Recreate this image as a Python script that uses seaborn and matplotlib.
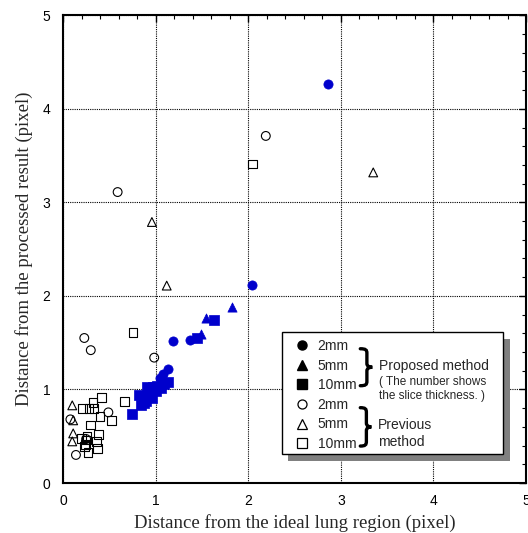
import numpy as np
import pandas as pd
import matplotlib
matplotlib.use('Agg')
import matplotlib.pyplot as plt
import seaborn as sns
from matplotlib.lines import Line2D
from matplotlib.patches import Rectangle, PathPatch
from matplotlib.path import Path

# proposed method (blue, filled)
prop_2mm_x = [2.86, 2.04, 1.19, 1.375, 1.13, 1.08, 1.05]
prop_2mm_y = [4.26, 2.12, 1.52, 1.53, 1.22, 1.17, 1.12]
prop_5mm_x = [1.83, 1.54, 1.49]
prop_5mm_y = [1.88, 1.76, 1.59]
prop_10mm_x = [0.74, 0.82, 0.84, 0.87, 0.88, 0.90, 0.91, 0.93, 0.96, 0.97, 1.00, 1.02, 1.06, 1.09, 1.13, 1.45, 1.63]
prop_10mm_y = [0.74, 0.94, 0.83, 0.86, 0.92, 0.88, 1.03, 0.97, 0.91, 1.03, 0.98, 1.04, 1.02, 1.06, 1.08, 1.55, 1.74]

# previous method (open)
prev_2mm_x = [0.59, 2.19, 0.23, 0.30, 0.985, 0.49, 0.08, 0.14, 0.25]
prev_2mm_y = [3.11, 3.71, 1.55, 1.42, 1.34, 0.755, 0.68, 0.30, 0.47]
prev_5mm_x = [3.35, 0.96, 1.12, 0.10, 0.11, 0.11, 0.10]
prev_5mm_y = [3.32, 2.79, 2.11, 0.83, 0.67, 0.53, 0.445]
prev_10mm_x = [2.05, 0.755, 0.66, 0.415, 0.325, 0.28, 0.21, 0.335, 0.40, 0.525, 0.30, 0.385,
               0.26, 0.20, 0.365, 0.245, 0.375, 0.27, 0.23, 0.256]
prev_10mm_y = [3.41, 1.61, 0.87, 0.91, 0.86, 0.80, 0.795, 0.795, 0.71, 0.67, 0.62, 0.52,
               0.50, 0.475, 0.445, 0.41, 0.37, 0.33, 0.39, 0.46]

groups = [
    ('Proposed', '2mm', prop_2mm_x, prop_2mm_y),
    ('Proposed', '5mm', prop_5mm_x, prop_5mm_y),
    ('Proposed', '10mm', prop_10mm_x, prop_10mm_y),
    ('Previous', '2mm', prev_2mm_x, prev_2mm_y),
    ('Previous', '5mm', prev_5mm_x, prev_5mm_y),
    ('Previous', '10mm', prev_10mm_x, prev_10mm_y),
]
df = pd.concat([pd.DataFrame({'x': gx, 'y': gy, 'method': m, 'thick': t})
                for m, t, gx, gy in groups], ignore_index=True)

sns.set_style('white')
plt.rcParams['font.family'] = ['Liberation Sans', 'DejaVu Sans']

markers = {'2mm': 'o', '5mm': '^', '10mm': 's'}
blue = '#0000cc'

fig = plt.figure(figsize=(5.28, 5.33), dpi=100)
ax = fig.add_axes([0.1193, 0.0938, 0.877, 0.8776])

for (m, t), sub in df.groupby(['method', 'thick'], sort=False):
    if m == 'Proposed':
        sns.scatterplot(data=sub, x='x', y='y', marker=markers[t], color=blue,
                        edgecolor=blue, linewidth=0.5, s=44, ax=ax, legend=False, zorder=3)
    else:
        sns.scatterplot(data=sub, x='x', y='y', marker=markers[t], facecolor='none',
                        edgecolor='black', linewidth=0.8, s=40, ax=ax, legend=False, zorder=3)

ax.set_xlim(0, 5)
ax.set_ylim(0, 5)
ax.set_xticks(np.arange(0, 6, 1))
ax.set_yticks(np.arange(0, 6, 1))
ax.set_xticks(np.arange(0, 5.01, 0.2), minor=True)
ax.set_yticks(np.arange(0, 5.01, 0.2), minor=True)
ax.grid(True, which='major', color='black', linestyle=(0, (1, 1)), linewidth=0.8)
ax.tick_params(which='both', direction='in', top=True, right=True, colors='black')
ax.tick_params(which='major', length=5, width=1, labelsize=10)
ax.tick_params(axis='x', which='major', pad=8)
ax.tick_params(axis='y', which='major', pad=9)
ax.tick_params(which='minor', length=3, width=0.8)
for sp in ax.spines.values():
    sp.set_color('black')
    sp.set_linewidth(1.5)

ax.set_xlabel('Distance from the ideal lung region (pixel)', family='Liberation Serif', fontsize=13.5, labelpad=4)
ax.set_ylabel('Distance from the processed result (pixel)', family='Liberation Serif', fontsize=13.5, labelpad=7)

# legend box with shadow
ax.add_patch(Rectangle((0.487, 0.047), 0.478, 0.26, transform=ax.transAxes, facecolor='#808080',
                       edgecolor='none', zorder=5, clip_on=False))
ax.add_patch(Rectangle((0.472, 0.062), 0.478, 0.26, transform=ax.transAxes, facecolor='white',
                       edgecolor='black', linewidth=1.0, zorder=6, clip_on=False))

handles = []
labels = []
for m, t, gx, gy in groups:
    if m == 'Proposed':
        h = Line2D([], [], marker=markers[t], linestyle='none', markersize=6.5,
                   markerfacecolor='black', markeredgecolor='black')
    else:
        h = Line2D([], [], marker=markers[t], linestyle='none', markersize=6.5,
                   markerfacecolor='white', markeredgecolor='black', markeredgewidth=0.9)
    handles.append(h)
    labels.append(t)
leg = ax.legend(handles, labels, loc='upper left', bbox_to_anchor=(0.5004, 0.3075),
                frameon=False, fontsize=10, borderpad=0, borderaxespad=0, labelspacing=0.4,
                handlelength=1.0, handletextpad=0.65)
leg.set_zorder(7)


def brace(x0, x1, y0, y1):
    # right-facing curly brace in axes coords
    def p(u, v):
        return (x0 + u * (x1 - x0), y0 + v * (y1 - y0))
    verts = [p(0, 1), p(0.45, 1), p(0.55, 0.97), p(0.55, 0.88),
             p(0.55, 0.6),
             p(0.55, 0.53), p(0.75, 0.5), p(1, 0.5),
             p(0.75, 0.5), p(0.55, 0.47), p(0.55, 0.4),
             p(0.55, 0.12),
             p(0.55, 0.03), p(0.45, 0), p(0, 0)]
    codes = [Path.MOVETO, Path.CURVE4, Path.CURVE4, Path.CURVE4,
             Path.LINETO,
             Path.CURVE4, Path.CURVE4, Path.CURVE4,
             Path.CURVE4, Path.CURVE4, Path.CURVE4,
             Path.LINETO,
             Path.CURVE4, Path.CURVE4, Path.CURVE4]
    ax.add_patch(PathPatch(Path(verts, codes), facecolor='none', edgecolor='black', linewidth=2.4,
                           transform=ax.transAxes, zorder=8, clip_on=False, capstyle='round'))


brace(0.642, 0.668, 0.208, 0.287)
brace(0.642, 0.666, 0.079, 0.161)

ax.text(0.683, 0.2505, 'Proposed method', transform=ax.transAxes, fontsize=10, va='center', zorder=8)
ax.text(0.683, 0.215, '( The number shows', transform=ax.transAxes, fontsize=8.5, va='center', zorder=8)
ax.text(0.683, 0.185, 'the slice thickness. )', transform=ax.transAxes, fontsize=8.5, va='center', zorder=8)
ax.text(0.680, 0.124, 'Previous', transform=ax.transAxes, fontsize=10, va='center', zorder=8)
ax.text(0.680, 0.088, 'method', transform=ax.transAxes, fontsize=10, va='center', zorder=8)

fig.savefig('out.png', dpi=100)
